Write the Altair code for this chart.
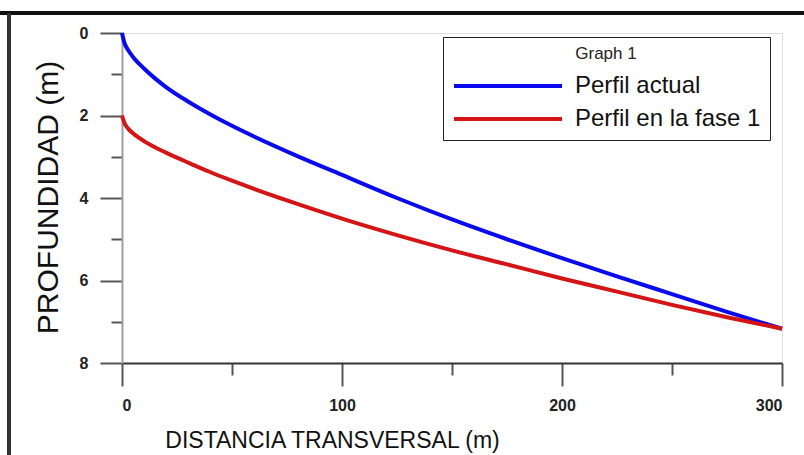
import altair as alt
import pandas as pd

# ---- data ----
distance = [0, 1, 3, 5, 10, 15, 20, 30, 40, 50, 60, 80, 100, 125, 150, 175, 200, 225, 250, 275, 300]
perfil_actual = [0.0, 0.22, 0.43, 0.58, 0.86, 1.1, 1.31, 1.66, 1.97, 2.25, 2.51, 2.99, 3.44, 4.0,
                 4.52, 5.0, 5.46, 5.9, 6.33, 6.76, 7.17]
perfil_fase1 = [2.0, 2.17, 2.33, 2.43, 2.62, 2.77, 2.9, 3.14, 3.37, 3.58, 3.78, 4.15, 4.5, 4.9,
                5.27, 5.61, 5.95, 6.27, 6.59, 6.89, 7.17]
series_names = ["Perfil actual", "Perfil en la fase 1"]
series_colors = ["#0a0aee", "#d51515"]
x_ticks = [0, 50, 100, 150, 200, 250, 300]
y_ticks = [0, 1, 2, 3, 4, 5, 6, 7, 8]

rows = []
for name, vals in zip(series_names, [perfil_actual, perfil_fase1]):
    for xv, yv in zip(distance, vals):
        rows.append({"x": xv, "y": yv, "serie": name})
df = pd.DataFrame(rows)

W, H = 660, 330
FONT = "Liberation Sans"

lines = alt.Chart(df).mark_line(strokeWidth=4, interpolate="monotone").encode(
    x=alt.X(
        "x:Q",
        scale=alt.Scale(domain=[0, 300], nice=False),
        axis=alt.Axis(
            values=x_ticks,
            grid=False,
            tickSize={"condition": {"test": "datum.value % 100 === 0", "value": 23}, "value": 12},
            tickColor="#555",
            tickWidth=2,
            domainColor="#333",
            domainWidth=2,
            labelExpr="datum.value % 100 === 0 ? datum.label : ''",
            labelFont=FONT,
            labelFontSize=16,
            labelFontWeight="bold",
            labelColor="#222",
            labelPadding=11,
            title="DISTANCIA TRANSVERSAL (m)",
            titleFont=FONT,
            titleFontSize=23,
            titleFontWeight="normal",
            titleColor="#111",
            titleX=210,
            titleY=84,
            titleAlign="center",
            titleBaseline="alphabetic",
        ),
    ),
    y=alt.Y(
        "y:Q",
        scale=alt.Scale(domain=[0, 8], reverse=True, nice=False),
        axis=alt.Axis(
            values=y_ticks,
            grid=False,
            tickSize={"condition": {"test": "datum.value % 2 === 0", "value": 22}, "value": 11},
            tickColor="#555",
            tickWidth=2,
            domainColor="#a0a0a0",
            domainWidth=2,
            labelExpr="datum.value % 2 === 0 ? datum.label : ''",
            labelFont=FONT,
            labelFontSize=16,
            labelFontWeight="bold",
            labelColor="#222",
            labelPadding=12,
            title="PROFUNDIDAD (m)",
            titleFont=FONT,
            titleFontSize=30,
            titleFontWeight="normal",
            titleColor="#111",
            titleAngle=270,
            titleX=-65,
            titleY=164,
            titleAlign="center",
            titleBaseline="alphabetic",
        ),
    ),
    color=alt.Color(
        "serie:N",
        scale=alt.Scale(domain=series_names, range=series_colors),
        legend=alt.Legend(
            title="Graph 1",
            orient="none",
            legendX=321,
            legendY=4,
            symbolType="stroke",
            symbolSize=11664,
            symbolStrokeWidth=4,
            clipHeight=16,
            rowPadding=9,
            labelOffset=11,
            labelLimit=400,
            labelFont=FONT,
            labelFontSize=24,
            labelColor="#111",
            titleFont=FONT,
            titleFontSize=17,
            titleFontWeight="normal",
            titleColor="#222",
            titleAnchor="middle",
            titlePadding=15,
            padding=9,
            strokeColor="#222",
            fillColor="white",
        ),
    ),
    order=alt.Order("x:Q"),
)

frame_top = alt.Chart(df).mark_rule(color="#111", strokeWidth=2.5).encode(
    x=alt.value(-122), x2=alt.value(W + 22), y=alt.value(-20)
)
frame_left = alt.Chart(df).mark_rule(color="#333", strokeWidth=2.5).encode(
    x=alt.value(-113), y=alt.value(-20), y2=alt.value(H + 92)
)

chart = alt.layer(lines, frame_top, frame_left).properties(
    width=W,
    height=H,
    autosize=alt.AutoSizeParams(type="none"),
    padding={"left": 122, "top": 33, "right": 22, "bottom": 92},
).configure_view(stroke=None).configure(background="white")

chart.save("out.html", embed_options={"renderer": "svg", "actions": False})
